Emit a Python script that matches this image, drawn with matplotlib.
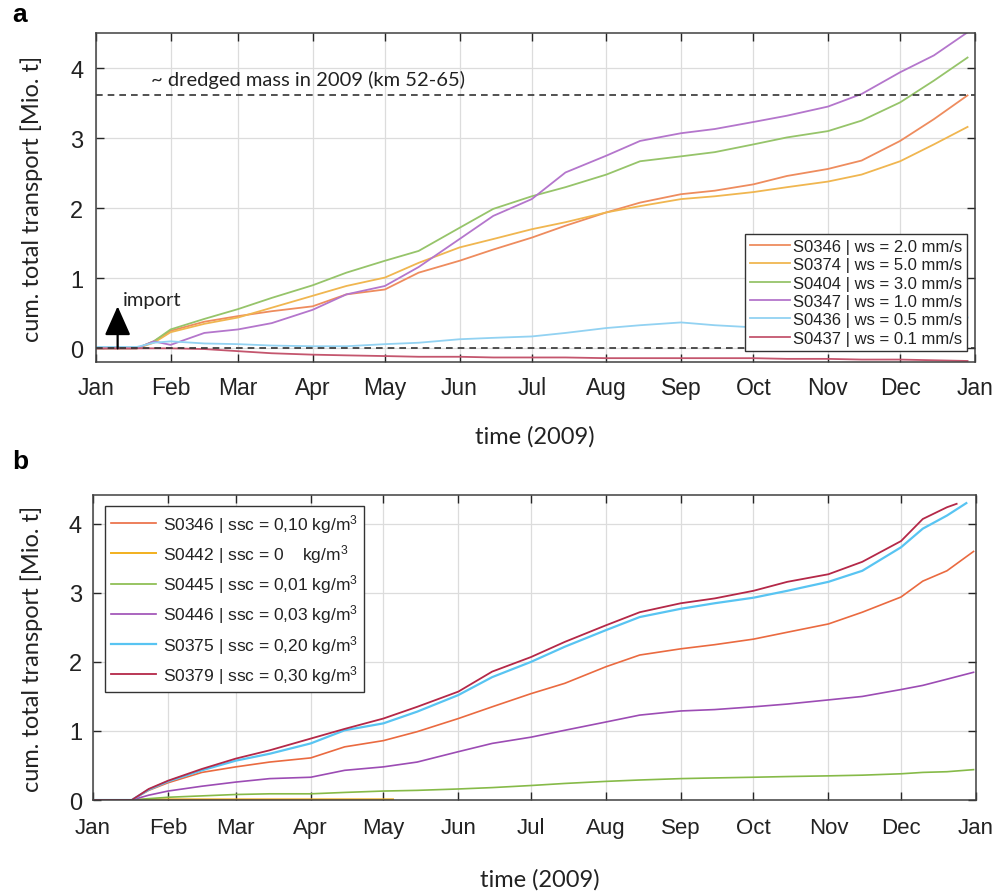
import numpy as np
import matplotlib
matplotlib.use('Agg')
import matplotlib.pyplot as plt
import matplotlib.dates as mdates
from matplotlib import font_manager

# ---- data ----
# panel a: common sampling dates
dates_a = ['2009-01-01', '2009-01-18', '2009-01-25', '2009-02-01', '2009-02-15',
           '2009-03-01', '2009-03-15', '2009-04-01', '2009-04-15', '2009-05-01',
           '2009-05-15', '2009-06-01', '2009-06-15', '2009-07-01', '2009-07-15',
           '2009-08-01', '2009-08-15', '2009-09-01', '2009-09-15', '2009-10-01',
           '2009-10-15', '2009-11-01', '2009-11-15', '2009-12-01', '2009-12-15',
           '2009-12-29']
s0346_a = [0, 0, 0.10, 0.25, 0.38, 0.46, 0.53, 0.60, 0.77, 0.84, 1.08, 1.25, 1.41,
           1.58, 1.75, 1.94, 2.08, 2.20, 2.25, 2.34, 2.46, 2.56, 2.68, 2.96, 3.27, 3.61]
s0374_a = [0, 0, 0.08, 0.23, 0.35, 0.44, 0.58, 0.75, 0.89, 1.01, 1.22, 1.44, 1.56,
           1.70, 1.80, 1.94, 2.03, 2.13, 2.17, 2.23, 2.30, 2.38, 2.48, 2.67, 2.91, 3.16]
s0404_a = [0, 0, 0.10, 0.27, 0.42, 0.56, 0.72, 0.90, 1.08, 1.25, 1.39, 1.72, 1.99,
           2.17, 2.30, 2.48, 2.67, 2.74, 2.80, 2.91, 3.01, 3.10, 3.25, 3.51, 3.82, 4.15]
s0347_a = [0, 0, 0.10, 0.05, 0.22, 0.27, 0.36, 0.55, 0.77, 0.89, 1.16, 1.56, 1.89,
           2.13, 2.51, 2.75, 2.96, 3.07, 3.13, 3.23, 3.32, 3.45, 3.63, 3.94, 4.18, 4.51]
s0436_a = [0.02, 0.02, 0.08, 0.10, 0.07, 0.06, 0.04, 0.03, 0.03, 0.06, 0.08, 0.13, 0.15,
           0.17, 0.22, 0.29, 0.33, 0.37, 0.33, 0.30, 0.32, 0.35, 0.37, 0.40, 0.42, 0.44]
s0437_a = [0, 0, 0, 0, -0.01, -0.04, -0.07, -0.09, -0.10, -0.11, -0.12, -0.12, -0.13,
           -0.13, -0.13, -0.14, -0.14, -0.14, -0.14, -0.14, -0.15, -0.15, -0.16, -0.16,
           -0.17, -0.18]
labels_a = ['S0346 | ws = 2.0 mm/s', 'S0374 | ws = 5.0 mm/s', 'S0404 | ws = 3.0 mm/s',
            'S0347 | ws = 1.0 mm/s', 'S0436 | ws = 0.5 mm/s', 'S0437 | ws = 0.1 mm/s']
colors_a = ['#ee8c5e', '#f0b650', '#96c46a', '#b476cc', '#92d2f2', '#c4566e']
dredged_mass = 3.61

# panel b
dates_b = ['2009-01-01', '2009-01-17', '2009-01-24', '2009-02-01', '2009-02-15',
           '2009-03-01', '2009-03-15', '2009-04-01', '2009-04-15', '2009-05-01',
           '2009-05-15', '2009-06-01', '2009-06-15', '2009-07-01', '2009-07-15',
           '2009-08-01', '2009-08-15', '2009-09-01', '2009-09-15', '2009-10-01',
           '2009-10-15', '2009-11-01', '2009-11-15', '2009-12-01', '2009-12-10',
           '2009-12-20']
s0346_b = [0, 0, 0.14, 0.25, 0.40, 0.48, 0.55, 0.61, 0.77, 0.86, 0.99, 1.18, 1.35,
           1.54, 1.69, 1.93, 2.10, 2.19, 2.25, 2.33, 2.43, 2.55, 2.72, 2.94, 3.17, 3.32]
s0442_b = [0, 0, 0.01, 0.01, 0.01, 0.01, 0.01, 0.01, 0.01, 0.01]
s0445_b = [0, 0, 0.02, 0.04, 0.06, 0.08, 0.09, 0.09, 0.11, 0.13, 0.14, 0.16, 0.18,
           0.21, 0.24, 0.27, 0.29, 0.31, 0.32, 0.33, 0.34, 0.35, 0.36, 0.38, 0.40, 0.41]
s0446_b = [0, 0, 0.07, 0.13, 0.20, 0.26, 0.31, 0.33, 0.43, 0.48, 0.55, 0.70, 0.82,
           0.91, 1.01, 1.13, 1.23, 1.29, 1.31, 1.35, 1.39, 1.45, 1.50, 1.60, 1.66, 1.75]
s0375_b = [0, 0, 0.15, 0.27, 0.43, 0.57, 0.67, 0.82, 1.01, 1.11, 1.28, 1.52, 1.78,
           2.00, 2.22, 2.46, 2.65, 2.77, 2.85, 2.93, 3.03, 3.16, 3.32, 3.66, 3.93, 4.12]
s0379_b = [0, 0, 0.16, 0.28, 0.45, 0.60, 0.72, 0.89, 1.03, 1.18, 1.35, 1.57, 1.86,
           2.07, 2.29, 2.53, 2.72, 2.85, 2.92, 3.03, 3.16, 3.27, 3.45, 3.75, 4.07, 4.24]
# last point of each series in panel b
end_dates_b = ['2009-12-31', '2009-05-05', '2009-12-31', '2009-12-31', '2009-12-28', '2009-12-24']
end_vals_b = [3.60, 0.01, 0.44, 1.85, 4.30, 4.29]
labels_b = ['S0346 | ssc = 0,10 kg/m$^3$', 'S0442 | ssc = 0    kg/m$^3$',
            'S0445 | ssc = 0,01 kg/m$^3$', 'S0446 | ssc = 0,03 kg/m$^3$',
            'S0375 | ssc = 0,20 kg/m$^3$', 'S0379 | ssc = 0,30 kg/m$^3$']
colors_b = ['#ea6a40', '#f2b01e', '#86ba48', '#9c4cb4', '#58c4f2', '#b42848']
widths_b = [1.2, 1.4, 1.2, 1.2, 1.6, 1.3]

# ---- style ----
installed = {f.name for f in font_manager.fontManager.ttflist}
narrow = 'Liberation Sans Narrow' if 'Liberation Sans Narrow' in installed else 'Liberation Sans'
plt.rcParams['font.family'] = ['Liberation Sans', 'DejaVu Sans']
plt.rcParams['mathtext.fontset'] = 'custom'
plt.rcParams['mathtext.rm'] = 'Liberation Sans'
plt.rcParams['mathtext.it'] = 'Liberation Sans'

fig = plt.figure(figsize=(10.07, 8.95), dpi=100)
ax1 = fig.add_axes([0.0953, 0.594, 0.8727, 0.368])
ax2 = fig.add_axes([0.0924, 0.105, 0.8768, 0.341])

d_a = np.array(dates_a, dtype='datetime64[D]')
d_b = np.array(dates_b, dtype='datetime64[D]')


def style_axes(ax, tickfont, tsize, xpad, ypad):
    ax.set_xlim(np.datetime64('2009-01-01'), np.datetime64('2010-01-01'))
    ax.xaxis.set_major_locator(mdates.MonthLocator())
    ax.xaxis.set_major_formatter(mdates.DateFormatter('%b'))
    ax.set_yticks([0, 1, 2, 3, 4])
    ax.grid(True, color='#dcdcdc', lw=0.9)
    ax.set_axisbelow(True)
    ax.tick_params(direction='in', length=6, width=1, top=True, right=True,
                   colors='#262626', labelcolor='#222222')
    ax.tick_params(axis='x', pad=xpad)
    ax.tick_params(axis='y', pad=ypad)
    for lab in ax.get_xticklabels():
        lab.set_fontfamily(tickfont)
        lab.set_fontsize(tsize)
    for lab in ax.get_yticklabels():
        lab.set_fontfamily('Liberation Sans')
        lab.set_fontsize(17)
    for sp in ax.spines.values():
        sp.set_color('#404040')
        sp.set_linewidth(1.1)


# ---- panel a ----
series_a = [s0346_a, s0374_a, s0404_a, s0347_a, s0436_a, s0437_a]
for vals, col, lab in zip(series_a, colors_a, labels_a):
    ax1.plot(d_a, vals, color=col, lw=1.3, label=lab)
ax1.axhline(dredged_mass, color='#333333', lw=1.2, ls=(0, (4, 3)))
ax1.axhline(0, color='#333333', lw=1.2, ls=(0, (4, 3)))
ax1.set_ylim(-0.2, 4.5)
style_axes(ax1, 'Liberation Sans', 16.5, 10, 9)
ax1.text(np.datetime64('2009-01-24'), 3.84, '~ dredged mass in 2009 (km 52-65)',
         family='Lato', fontsize=14.5, color='#222222', va='center', ha='left')
ax1.annotate('', xy=(np.datetime64('2009-01-10'), 0.6), xytext=(np.datetime64('2009-01-10'), 0.0),
             arrowprops=dict(arrowstyle='-|>,head_length=0.9,head_width=0.4',
                             color='black', lw=1.6, mutation_scale=20, shrinkA=0, shrinkB=0))
ax1.text(np.datetime64('2009-01-12'), 0.7, 'import', family='Lato', fontsize=14.5,
         color='#222222', va='center', ha='left')
leg1 = ax1.legend(loc='lower right', bbox_to_anchor=(0.991, 0.036), borderaxespad=0,
                  fontsize=12, frameon=True, fancybox=False, framealpha=1,
                  edgecolor='#333333', handlelength=2.4, handletextpad=0.15,
                  labelspacing=0.2, borderpad=0.3)
leg1.get_frame().set_linewidth(1.0)
for t in leg1.get_texts():
    t.set_color('#222222')

# ---- panel b ----
series_b = [s0346_b, s0442_b, s0445_b, s0446_b, s0375_b, s0379_b]
for vals, col, lab, lw, ed, ev in zip(series_b, colors_b, labels_b, widths_b,
                                     end_dates_b, end_vals_b):
    dd = np.append(d_b[:len(vals)], np.datetime64(ed))
    ax2.plot(dd, list(vals) + [ev], color=col, lw=lw, label=lab)
ax2.set_ylim(0, 4.42)
style_axes(ax2, narrow, 18 if narrow != 'Liberation Sans' else 16, 12, 8)
leg2 = ax2.legend(loc='upper left', bbox_to_anchor=(0.0136, 0.964), borderaxespad=0,
                  fontsize=12.5, frameon=True, fancybox=False, framealpha=1,
                  edgecolor='#333333', handlelength=2.6, handletextpad=0.4,
                  labelspacing=0.42, borderpad=0.35)
leg2.get_frame().set_linewidth(1.0)
for t in leg2.get_texts():
    t.set_color('#222222')

# ---- labels ----
for yc in (0.778, 0.275):
    fig.text(0.031, yc, 'cum. total transport [Mio. t]', rotation=90, family='Lato',
             fontsize=17, color='#222222', ha='center', va='center')
fig.text(0.531, 0.512, 'time (2009)', family='Lato', fontsize=17, color='#222222',
         ha='center', va='center')
fig.text(0.536, 0.017, 'time (2009)', family='Lato', fontsize=17, color='#222222',
         ha='center', va='center')
fig.text(0.012, 0.983, 'a', fontsize=19, fontweight='bold', ha='left', va='center')
fig.text(0.012, 0.484, 'b', fontsize=19, fontweight='bold', ha='left', va='center')

fig.savefig('out.png', dpi=100)
